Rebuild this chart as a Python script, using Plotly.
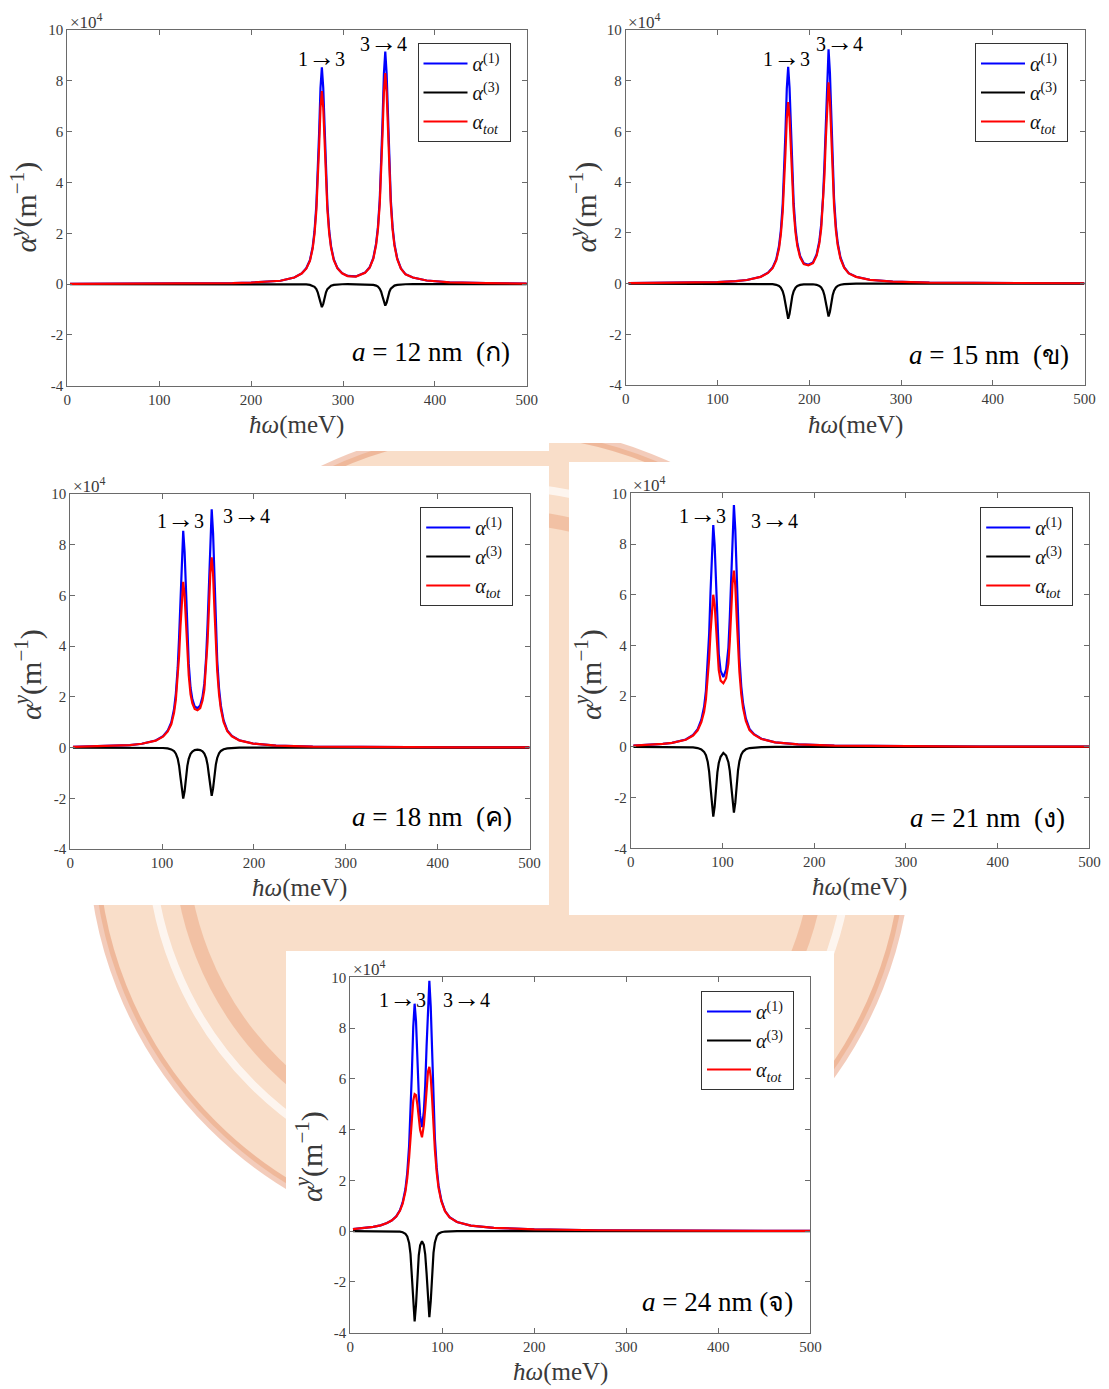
import plotly.graph_objects as go

W, H = 1109, 1389


def px(x):
    return x / W


def py(y):
    return 1 - y / H


# ---------------- data (units: meV and 1e4 m^-1) ----------------
x_ticks = [0, 100, 200, 300, 400, 500]
x_tick_labels = ["0", "100", "200", "300", "400", "500"]
y_ticks = [-4, -2, 0, 2, 4, 6, 8, 10]
y_tick_labels = ["-4", "-2", "0", "2", "4", "6", "8", "10"]

series_names = ["<i>α</i><sup>(1)</sup>\u00a0", "<i>α</i><sup>(3)</sup>\u00a0",
                "<i>α</i><sub><i>tot</i></sub>\u00a0"]
panel_labels = ["<i>a</i> = 12 nm  (ก)", "<i>a</i> = 15 nm  (ข)", "<i>a</i> = 18 nm  (ค)",
                "<i>a</i> = 21 nm  (ง)", "<i>a</i> = 24 nm (จ)"]
transitions = ["1<span style='font-size:27px'>→</span>3", "3<span style='font-size:27px'>→</span>4"]

# a = 12 nm
p1_x = [3, 100, 150, 180, 200, 220, 232, 247, 255, 260, 264, 267, 269, 271, 272.5, 274, 275.5, 277,
        278.5, 280, 281.5, 283, 285, 287, 290, 294, 299, 305, 314, 324, 329, 333, 336, 338, 340, 341.5,
        343, 344.5, 346, 347.5, 349, 350.5, 352, 354, 356, 359, 363, 368, 376, 391, 416, 456, 500]
p1_a1 = [0.01, 0.015, 0.025, 0.04, 0.06, 0.09, 0.13, 0.26, 0.42, 0.62, 0.94, 1.46, 2.08, 3.10, 4.30,
         5.93, 7.71, 8.53, 7.72, 5.94, 4.31, 3.12, 2.10, 1.49, 0.97, 0.63, 0.43, 0.32, 0.30, 0.45, 0.66,
         1.03, 1.59, 2.24, 3.34, 4.62, 6.38, 8.28, 9.15, 8.27, 6.37, 4.61, 3.33, 2.23, 1.57, 1.01, 0.62,
         0.39, 0.26, 0.14, 0.07, 0.035, 0.02]
p1_a3 = [0, 0, 0, 0, 0, 0, 0, -0.003, -0.007, -0.015, -0.032, -0.063, -0.107, -0.197, -0.322, -0.524,
         -0.777, -0.91, -0.777, -0.524, -0.322, -0.197, -0.107, -0.063, -0.032, -0.015, -0.007, -0.005,
         -0.004, -0.007, -0.014, -0.03, -0.059, -0.1, -0.184, -0.301, -0.49, -0.726, -0.85, -0.726, -0.49,
         -0.301, -0.184, -0.1, -0.059, -0.03, -0.014, -0.007, -0.003, 0, 0, 0, 0]
p1_tot = [0.01, 0.015, 0.025, 0.04, 0.06, 0.09, 0.13, 0.257, 0.413, 0.605, 0.908, 1.397, 1.973, 2.903,
          3.978, 5.406, 6.933, 7.6, 6.943, 5.416, 3.988, 2.923, 1.993, 1.427, 0.938, 0.615, 0.423, 0.315,
          0.296, 0.443, 0.646, 1.0, 1.531, 2.14, 3.156, 4.319, 5.89, 7.554, 8.30, 7.544, 5.88, 4.309,
          3.146, 2.13, 1.511, 0.98, 0.606, 0.383, 0.257, 0.14, 0.07, 0.035, 0.02]

# a = 15 nm
p2_x = [3, 50, 80, 100, 120, 132, 147, 155, 160, 164, 167, 169, 171, 172.5, 174, 175.5, 177, 178.5, 180,
        181.5, 183, 185, 187, 190, 194, 199, 204, 208, 211, 213, 215, 216.5, 218, 219.5, 221, 222.5, 224,
        225.5, 227, 229, 231, 234, 238, 243, 251, 266, 291, 331, 400, 500]
p2_a1 = [0.015, 0.025, 0.04, 0.06, 0.10, 0.14, 0.27, 0.43, 0.63, 0.96, 1.48, 2.10, 3.12, 4.30, 5.93,
         7.69, 8.55, 7.71, 5.96, 4.34, 3.17, 2.17, 1.58, 1.09, 0.80, 0.74, 0.83, 1.15, 1.68, 2.33, 3.41,
         4.68, 6.43, 8.33, 9.24, 8.32, 6.41, 4.65, 3.36, 2.26, 1.60, 1.03, 0.645, 0.41, 0.27, 0.15,
         0.075, 0.035, 0.02, 0.012]
p2_a3 = [0, 0, 0, 0, 0, 0, -0.005, -0.011, -0.023, -0.049, -0.096, -0.164, -0.3, -0.492, -0.801, -1.187,
         -1.39, -1.187, -0.801, -0.492, -0.3, -0.164, -0.098, -0.053, -0.029, -0.022, -0.028, -0.05,
         -0.093, -0.156, -0.283, -0.46, -0.749, -1.11, -1.30, -1.11, -0.749, -0.46, -0.281, -0.153,
         -0.09, -0.046, -0.022, -0.011, -0.004, -0.001, 0, 0, 0, 0]
p2_tot = [0.015, 0.025, 0.04, 0.06, 0.10, 0.14, 0.265, 0.419, 0.607, 0.911, 1.384, 1.936, 2.82, 3.808,
          5.129, 6.503, 7.16, 6.523, 5.159, 3.848, 2.87, 2.006, 1.482, 1.037, 0.771, 0.718, 0.802, 1.10,
          1.587, 2.174, 3.127, 4.22, 5.681, 7.22, 7.94, 7.21, 5.661, 4.19, 3.079, 2.107, 1.51, 0.984,
          0.623, 0.399, 0.266, 0.149, 0.075, 0.035, 0.02, 0.012]

# a = 18 nm
p3_x = [3, 30, 50, 65, 78, 88, 93, 101, 106, 110, 113, 115, 117, 118.5, 120, 121.5, 123, 124.5, 126,
        127.5, 129, 131, 133, 135.5, 138.5, 141.5, 144, 146, 148, 149.5, 151, 152.5, 154, 155.5, 157,
        158.5, 160, 162, 164, 167, 171, 176, 184, 199, 224, 264, 330, 420, 500]
p3_a1 = [0.03, 0.05, 0.07, 0.10, 0.15, 0.22, 0.28, 0.45, 0.66, 0.99, 1.51, 2.13, 3.14, 4.33, 5.94, 7.70,
         8.55, 7.73, 6.02, 4.44, 3.30, 2.35, 1.90, 1.62, 1.55, 1.66, 2.00, 2.52, 3.59, 4.85, 6.60, 8.50,
         9.40, 8.46, 6.53, 4.75, 3.445, 2.325, 1.65, 1.07, 0.68, 0.46, 0.29, 0.16, 0.08, 0.04, 0.02,
         0.01, 0.008]
p3_a3 = [0, 0, 0, 0, 0, -0.004, -0.007, -0.017, -0.035, -0.072, -0.141, -0.24, -0.437, -0.716, -1.162,
         -1.722, -2.01, -1.723, -1.166, -0.721, -0.445, -0.25, -0.156, -0.1, -0.08, -0.1, -0.148, -0.236,
         -0.417, -0.675, -1.091, -1.613, -1.9, -1.611, -1.088, -0.67, -0.41, -0.225, -0.133, -0.068,
         -0.033, -0.015, -0.006, -0.002, 0, 0, 0, 0, 0]
p3_tot = [0.03, 0.05, 0.07, 0.10, 0.15, 0.216, 0.273, 0.433, 0.625, 0.918, 1.369, 1.89, 2.703, 3.614,
          4.778, 5.978, 6.54, 6.007, 4.854, 3.719, 2.855, 2.10, 1.744, 1.52, 1.47, 1.56, 1.852, 2.284,
          3.173, 4.175, 5.509, 6.887, 7.5, 6.849, 5.442, 4.08, 3.035, 2.10, 1.517, 1.002, 0.647, 0.445,
          0.284, 0.158, 0.08, 0.04, 0.02, 0.01, 0.008]

# a = 21 nm
p4_x = [3, 20, 35, 45, 55, 60, 68, 73, 77, 80, 82, 84, 85.5, 87, 88.5, 90, 91.5, 93, 94.5, 96, 98, 101,
        104, 106.5, 108, 109.5, 111, 112.5, 114, 115.5, 117, 118.5, 120.5, 122.5, 125.5, 129.5, 134.5,
        142.5, 157.5, 182.5, 222, 290, 380, 500]
p4_a1 = [0.05, 0.08, 0.12, 0.16, 0.23, 0.29, 0.47, 0.70, 1.07, 1.58, 2.21, 3.25, 4.45, 6.09, 7.87, 8.75,
         7.97, 6.28, 4.74, 3.66, 3.0, 2.75, 3.05, 3.90, 5.10, 6.81, 8.67, 9.54, 8.58, 6.63, 4.84, 3.52,
         2.39, 1.71, 1.12, 0.71, 0.50, 0.32, 0.18, 0.10, 0.05, 0.025, 0.012, 0.008]
p4_a3 = [0, 0, 0, 0, -0.005, -0.009, -0.023, -0.047, -0.098, -0.195, -0.33, -0.60, -0.978, -1.585,
         -2.347, -2.75, -2.355, -1.60, -1.003, -0.637, -0.389, -0.24, -0.341, -0.605, -0.949, -1.511,
         -2.22, -2.59, -2.212, -1.494, -0.922, -0.565, -0.311, -0.184, -0.095, -0.047, -0.021, -0.009,
         -0.003, 0, 0, 0, 0, 0]
p4_tot = [0.05, 0.08, 0.12, 0.16, 0.225, 0.281, 0.447, 0.653, 0.972, 1.385, 1.88, 2.65, 3.472, 4.505,
          5.523, 6.0, 5.615, 4.68, 3.737, 3.023, 2.611, 2.51, 2.709, 3.295, 4.151, 5.299, 6.45, 6.95,
          6.368, 5.136, 3.918, 2.955, 2.079, 1.526, 1.025, 0.663, 0.479, 0.311, 0.177, 0.10, 0.05,
          0.025, 0.012, 0.008]

# a = 24 nm
p5_x = [3, 15, 25, 33, 40, 45, 50, 54, 57, 60, 62, 64, 65.5, 67, 68.5, 70, 71.5, 73, 74.5, 76, 78, 80,
        81.5, 83, 84.5, 86, 87.5, 89, 90.5, 92, 94, 96, 99, 103, 108, 116, 131, 156, 200, 270, 370, 500]
p5_a1 = [0.08, 0.12, 0.17, 0.23, 0.32, 0.42, 0.58, 0.82, 1.13, 1.66, 2.30, 3.36, 4.57, 6.23, 8.04, 8.96,
         8.27, 6.73, 5.38, 4.54, 4.10, 4.72, 5.73, 7.29, 9.05, 9.86, 8.84, 6.84, 5.01, 3.66, 2.50, 1.80,
         1.22, 0.80, 0.55, 0.36, 0.22, 0.13, 0.07, 0.035, 0.018, 0.01]
p5_a3 = [0, 0, 0, 0, 0, 0, -0.008, -0.02, -0.043, -0.103, -0.209, -0.468, -0.897, -1.715, -2.897, -3.56,
         -2.91, -1.744, -0.95, -0.559, -0.40, -0.541, -0.911, -1.665, -2.773, -3.39, -2.76, -1.634,
         -0.855, -0.446, -0.199, -0.099, -0.041, -0.015, -0.005, 0, 0, 0, 0, 0, 0, 0]
p5_tot = [0.08, 0.12, 0.17, 0.23, 0.32, 0.42, 0.572, 0.80, 1.087, 1.557, 2.091, 2.892, 3.673, 4.515,
          5.143, 5.40, 5.36, 4.986, 4.43, 3.981, 3.70, 4.179, 4.819, 5.625, 6.277, 6.47, 6.08, 5.206,
          4.155, 3.214, 2.301, 1.701, 1.179, 0.785, 0.545, 0.36, 0.22, 0.13, 0.07, 0.035, 0.018, 0.01]

# ---------------- layout (pixel positions in the 1109x1389 page) ----------------
SERIF = "Liberation Serif, Times New Roman, serif"
colors = ["#0000FF", "#000000", "#FF0000"]
AX = "#6a6a6a"
TXT = "#3a3a3a"

panels = [
    dict(x=p1_x, s=[p1_a1, p1_a3, p1_tot], box=(67.3, 30, 526.8, 385.7), leg=(417.5, 43),
         tr=[(321.6, 57), (383.4, 42)], lab=(512, 352), xt=(296, 425), yt=(24.6, 207)),
    dict(x=p2_x, s=[p2_a1, p2_a3, p2_tot], box=(625.8, 30, 1084.5, 385), leg=(975, 43),
         tr=[(786.9, 57), (839, 42)], lab=(1071, 355), xt=(855, 425), yt=(584.5, 207)),
    dict(x=p3_x, s=[p3_a1, p3_a3, p3_tot], box=(70.2, 494, 529.6, 849), leg=(420.2, 507),
         tr=[(180.6, 519), (246.6, 514)], lab=(513.8, 817), xt=(299, 888), yt=(28, 675)),
    dict(x=p4_x, s=[p4_a1, p4_a3, p4_tot], box=(630.7, 493.3, 1089.4, 848.3), leg=(980.2, 507),
         tr=[(702.9, 514), (774.3, 519)], lab=(1067, 818), xt=(859, 887), yt=(588, 675)),
    dict(x=p5_x, s=[p5_a1, p5_a3, p5_tot], box=(350.2, 977.3, 810.4, 1332.7), leg=(701, 991),
         tr=[(402.5, 998), (466.7, 998)], lab=(795.3, 1302), xt=(560, 1372), yt=(309, 1157)),
]

fig = go.Figure()
layout = dict(
    width=W, height=H, margin=dict(l=0, r=0, t=0, b=0, pad=0, autoexpand=False), autosize=False,
    paper_bgcolor="white", plot_bgcolor="rgba(0,0,0,0)", showlegend=True,
)
annotations = []

# faded emblem watermark behind the panels + white picture boxes
shapes = [
    dict(type="circle", xref="paper", yref="paper", layer="below",
         x0=px(93), x1=px(907), y0=py(1244), y1=py(430),
         fillcolor="rgba(244,190,148,0.5)", line=dict(color="rgba(226,128,86,0.4)", width=10)),
    dict(type="circle", xref="paper", yref="paper", layer="below",
         x0=px(150), x1=px(850), y0=py(1187), y1=py(487),
         fillcolor="rgba(0,0,0,0)", line=dict(color="rgba(255,255,255,0.7)", width=8)),
    dict(type="circle", xref="paper", yref="paper", layer="below",
         x0=px(180), x1=px(820), y0=py(1157), y1=py(517),
         fillcolor="rgba(0,0,0,0)", line=dict(color="rgba(230,140,95,0.35)", width=14)),
]
for (x0, y0, x1, y1) in [(0, 0, 549, 451), (549, 0, 1109, 443), (0, 466, 549, 905),
                         (569, 462, 1109, 915), (286, 951, 834, 1389)]:
    shapes.append(dict(type="rect", xref="paper", yref="paper", layer="below",
                       x0=px(x0), x1=px(x1), y0=py(y1), y1=py(y0),
                       fillcolor="white", line=dict(width=0)))

for i, p in enumerate(panels, start=1):
    sfx = "" if i == 1 else str(i)
    xa, ya = "x" + sfx, "y" + sfx
    leg = "legend" + sfx
    for k in range(3):
        fig.add_trace(go.Scatter(
            x=p["x"], y=p["s"][k], mode="lines", name=series_names[k],
            line=dict(color=colors[k], width=2.2), xaxis=xa, yaxis=ya, legend=leg,
            hoverinfo="skip"))
    bx0, by0, bx1, by1 = p["box"]
    axis_common = dict(showline=True, linecolor=AX, linewidth=1, mirror="allticks",
                       ticks="inside", ticklen=5, tickcolor=AX, tickwidth=1,
                       showgrid=False, zeroline=False, automargin=False,
                       tickfont=dict(family=SERIF, size=15, color=TXT))
    layout["xaxis" + sfx] = dict(domain=[px(bx0), px(bx1)], range=[0, 500], anchor=ya,
                                 tickvals=x_ticks, ticktext=x_tick_labels, **axis_common)
    layout["yaxis" + sfx] = dict(domain=[py(by1), py(by0)], range=[-4, 10], anchor=xa,
                                 tickvals=y_ticks, ticktext=y_tick_labels, **axis_common)
    lx, ly = p["leg"]
    layout[leg] = dict(x=px(lx), y=py(ly), xanchor="left", yanchor="top", bgcolor="white",
                       bordercolor="#333333", borderwidth=1, tracegroupgap=0, itemwidth=44,
                       font=dict(family=SERIF, size=20, color="#111111"))
    # x10^4 multiplier
    annotations.append(dict(xref="paper", yref="paper", x=px(bx0 + 0.5), y=py(by0 - 9),
                            xanchor="left", yanchor="middle", showarrow=False,
                            text="×10<sup>4</sup>", font=dict(family=SERIF, size=17, color=TXT)))
    for t, (tx, ty) in zip(transitions, p["tr"]):
        annotations.append(dict(xref="paper", yref="paper", x=px(tx), y=py(ty),
                                xanchor="center", yanchor="middle", showarrow=False, text=t,
                                font=dict(family=SERIF, size=20, color="black")))
    lbx, lby = p["lab"]
    annotations.append(dict(xref="paper", yref="paper", x=px(lbx), y=py(lby), xanchor="right",
                            yanchor="middle", showarrow=False, text=panel_labels[i - 1],
                            font=dict(family=SERIF + ", Noto Sans, DejaVu Sans, sans-serif",
                                      size=27, color="black")))
    xtx, xty = p["xt"]
    annotations.append(dict(xref="paper", yref="paper", x=px(xtx), y=py(xty), xanchor="center",
                            yanchor="middle", showarrow=False, text="<i>ħω</i>(meV)",
                            font=dict(family=SERIF, size=25, color=TXT)))
    ytx, yty = p["yt"]
    annotations.append(dict(xref="paper", yref="paper", x=px(ytx), y=py(yty), xanchor="center",
                            yanchor="middle", showarrow=False, textangle=-90,
                            text="<i>α</i><sup><i>y</i></sup>(m<sup>−1</sup>)",
                            font=dict(family=SERIF, size=30, color=TXT)))

layout["annotations"] = annotations
layout["shapes"] = shapes
fig.update_layout(**layout)

post = ("document.documentElement.style.margin='0';document.body.style.margin='0';"
        "document.body.style.padding='0';document.documentElement.style.overflow='hidden';"
        "document.body.style.overflow='hidden';"
        "var gd=document.getElementById('{plot_id}');gd.style.position='absolute';"
        "gd.style.left='0px';gd.style.top='0px';")
fig.write_html("out.html", post_script=post,
               config={"responsive": False, "displayModeBar": False})
